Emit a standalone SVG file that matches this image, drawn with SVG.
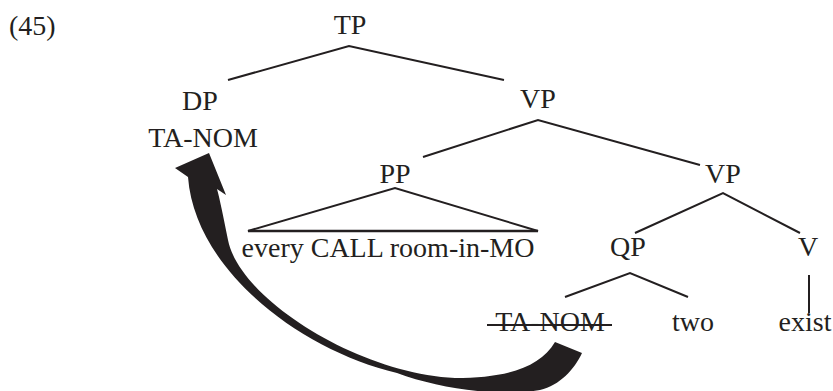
<svg xmlns="http://www.w3.org/2000/svg" width="833" height="391" viewBox="0 0 833 391">
<style>
text{font-family:"Liberation Serif","Times New Roman",serif;font-size:28px;fill:#231f20;text-anchor:middle}
.e{stroke:#231f20;stroke-width:2;fill:none;stroke-linecap:butt}
</style>
<rect width="833" height="391" fill="#fff"/>
<text x="9" y="35" style="text-anchor:start">(45)</text>
<g id="TP"><text x="350" y="34">TP</text></g>
<g id="DP"><text x="200" y="110">DP</text></g>
<g id="DP-TA-NOM"><text x="203" y="147">TA-NOM</text></g>
<g id="VP1"><text x="538" y="108">VP</text></g>
<g id="PP"><text x="395" y="183">PP</text></g>
<g id="PP-text"><text x="388" y="257">every CALL room-in-MO</text></g>
<g id="VP2"><text x="723" y="183">VP</text></g>
<g id="QP"><text x="628" y="256">QP</text></g>
<g id="V"><text x="808" y="256">V</text></g>
<g id="TA-NOM-trace"><text x="550" y="331">TA-NOM</text><line class="e" x1="487" y1="325" x2="612" y2="325"/></g>
<g id="two"><text x="693" y="331">two</text></g>
<g id="exist"><text x="805" y="331">exist</text></g>
<g id="connectors">
<polyline class="e" points="228,80 349,46 504,80"/>
<polyline class="e" points="423,157 538,120 700,165"/>
<polygon class="e" points="248,231 395,188 538,231"/>
<line class="e" x1="248" y1="231" x2="538" y2="231" style="stroke-width:2.6"/>
<polyline class="e" points="635,233 723,193 800,233"/>
<polyline class="e" points="565,297 630,273 688,297"/>
<line class="e" x1="809" y1="275" x2="809" y2="313"/>
<path fill="#231f20" d="M188,177 C195,270 300,350 397,373 C440,389 500,397 540,390 C560,385 574,370 582,353 L555,342 C540,368 505,378 455,378 C360,374 240,300 228,240 C223,215 220,200 217,189 L226,195 L209,153 L175,168 Z"/>
</g>
</svg>
